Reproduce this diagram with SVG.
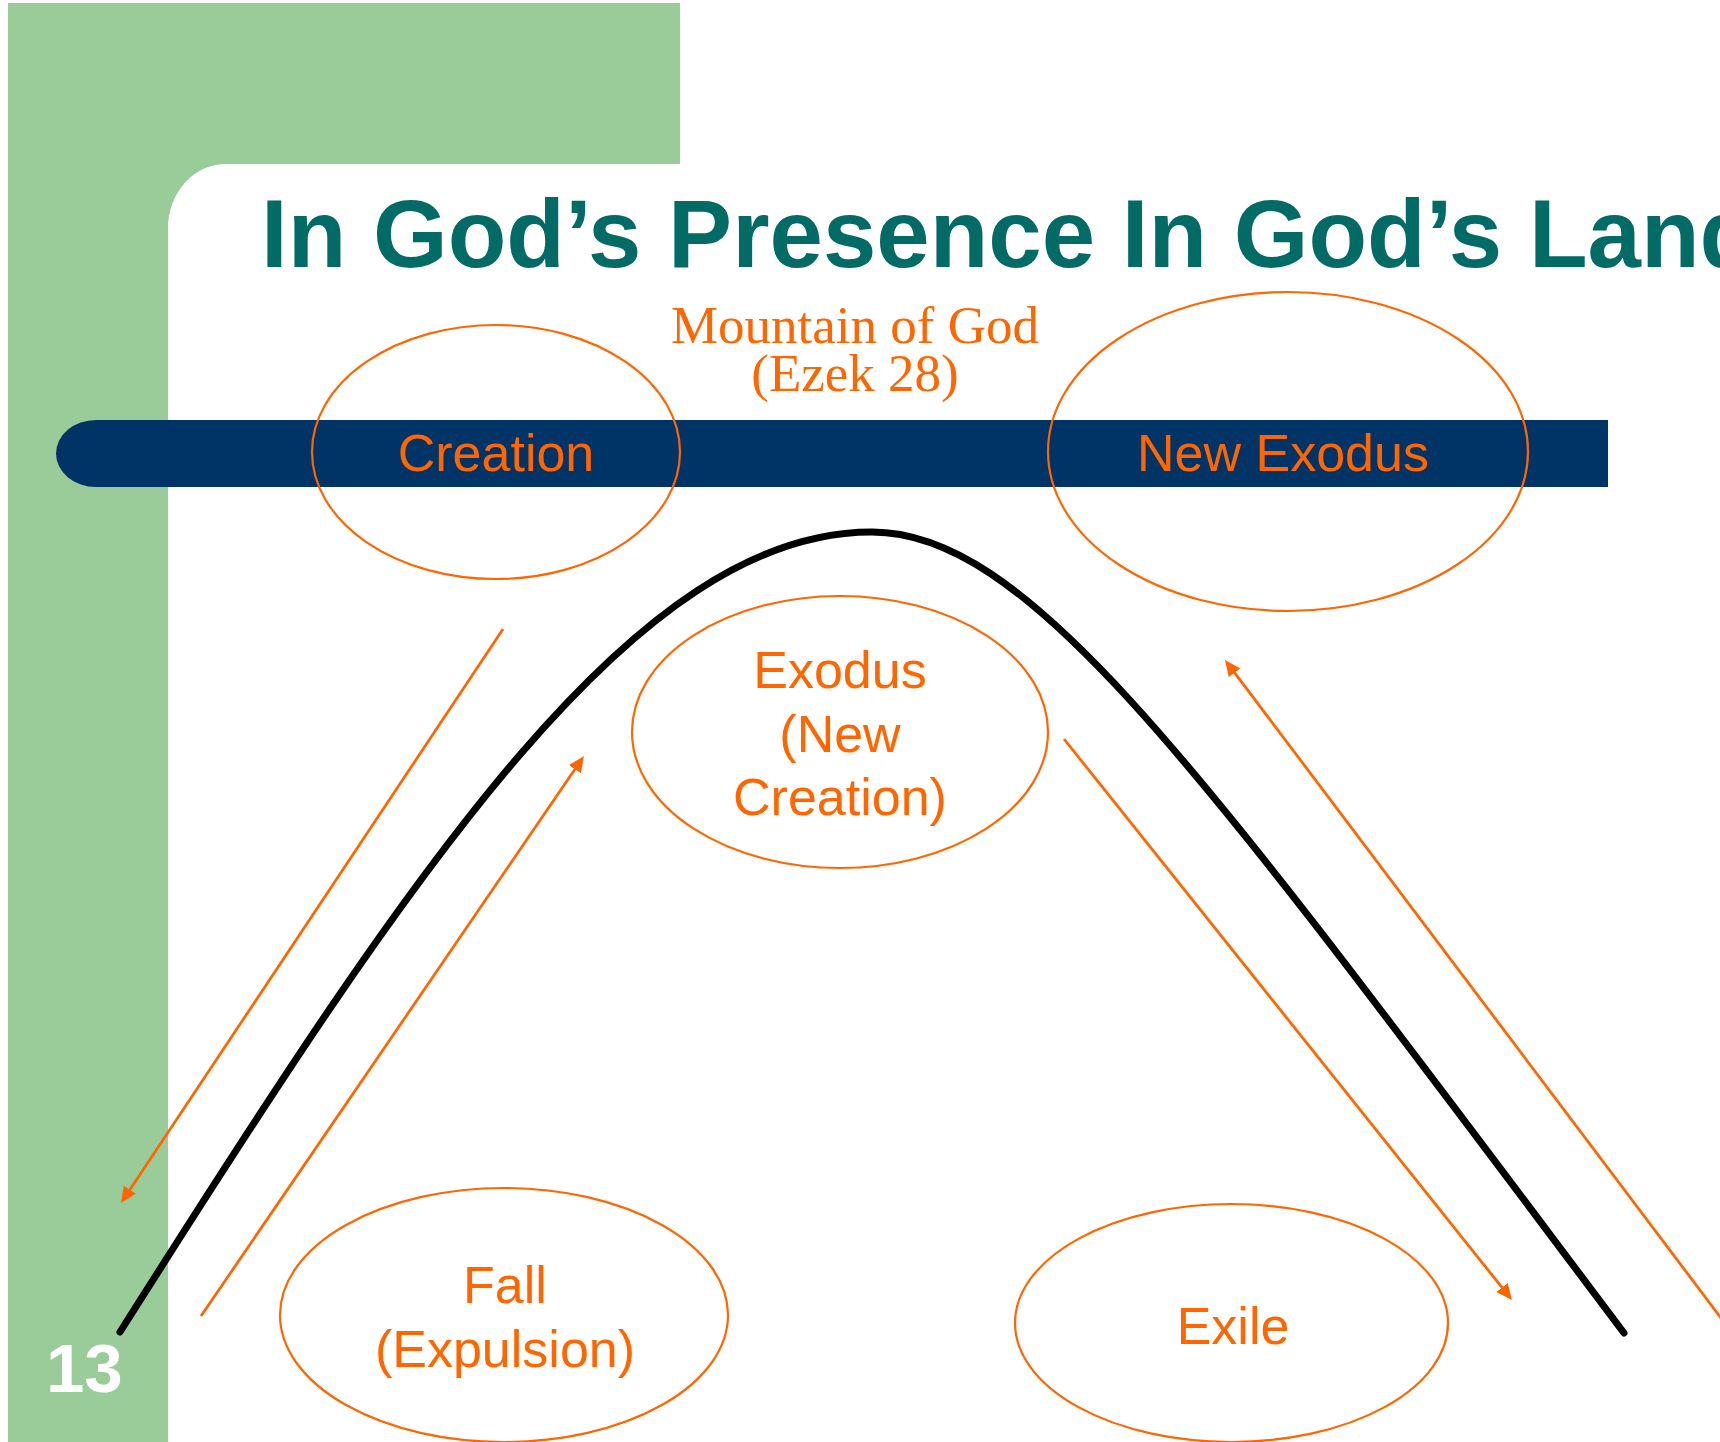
<svg xmlns="http://www.w3.org/2000/svg" width="1720" height="1442" viewBox="0 0 1720 1442">
<style>
.lbl{font-family:"Liberation Sans",Arial,sans-serif;font-size:52px;fill:#FF6600;text-anchor:middle}
.ell{fill:none;stroke:#FF6600;stroke-width:2.2}
.arr{fill:none;stroke:#FF6600;stroke-width:2.75;marker-end:url(#ah)}
</style>
<defs>
<marker id="ah" markerUnits="userSpaceOnUse" markerWidth="16" markerHeight="15" refX="12" refY="7.25" orient="auto">
<path d="M0,0 L16,7.25 L0,14.5 z" fill="#FF6600"/>
</marker>
</defs>
<rect width="1720" height="1442" fill="#FFFFFF"/>
<g id="background">
<rect x="8" y="3" width="672" height="161" fill="#9ACC99"/>
<rect x="8" y="3" width="160" height="1439" fill="#9ACC99"/>
<rect x="160" y="160" width="80" height="80" fill="#9ACC99"/>
<rect x="168" y="164" width="1600" height="1400" rx="58" ry="64" fill="#FFFFFF"/>
<path d="M1608,420 H96 A40,33.5 0 0 0 96,487 H1608 Z" fill="#003366"/>
</g>
<text id="title" x="261" y="267" font-family="'Liberation Sans',Arial,sans-serif" font-weight="bold" font-size="96" fill="#036B66">In God’s Presence In God’s Land</text>
<text id="slide-number" x="46" y="1392" font-family="'Liberation Sans',Arial,sans-serif" font-weight="bold" font-size="69" fill="#FFFFFF">13</text>
<g id="mountain-label" font-family="'Liberation Serif','Times New Roman',serif" font-size="53" fill="#FF6600" text-anchor="middle">
<text x="855" y="343">Mountain of God</text>
<text x="855" y="391">(Ezek 28)</text>
</g>
<g id="connectors">
<path id="mountain" d="M120,1332 C420,858 637,532 872,532 C1032,532 1204,774.4 1624,1333" fill="none" stroke="#000000" stroke-width="7" stroke-linecap="round" stroke-linejoin="round"/>
<line class="arr" x1="503" y1="629" x2="123.2" y2="1199.7"/>
<line class="arr" x1="201" y1="1316" x2="581.7" y2="759.3"/>
<line class="arr" x1="1064" y1="739" x2="1509.5" y2="1296.9"/>
<line class="arr" x1="1724" y1="1322" x2="1227.4" y2="663.2"/>
</g>
<g id="node-creation">
<ellipse class="ell" cx="496" cy="452" rx="184" ry="127"/>
<text class="lbl" x="496" y="471">Creation</text>
</g>
<g id="node-new-exodus">
<ellipse class="ell" cx="1288" cy="451.5" rx="240" ry="159.5"/>
<text class="lbl" x="1283" y="471">New Exodus</text>
</g>
<g id="node-exodus">
<ellipse class="ell" cx="840" cy="732" rx="208" ry="136"/>
<text class="lbl" x="840" y="688">Exodus</text>
<text class="lbl" x="840" y="752">(New</text>
<text class="lbl" x="840" y="815">Creation)</text>
</g>
<g id="node-fall">
<ellipse class="ell" cx="504" cy="1315" rx="224" ry="127"/>
<text class="lbl" x="505" y="1303">Fall</text>
<text class="lbl" x="505" y="1367">(Expulsion)</text>
</g>
<g id="node-exile">
<ellipse class="ell" cx="1231.5" cy="1323" rx="216.5" ry="119"/>
<text class="lbl" x="1233" y="1344">Exile</text>
</g>
</svg>
